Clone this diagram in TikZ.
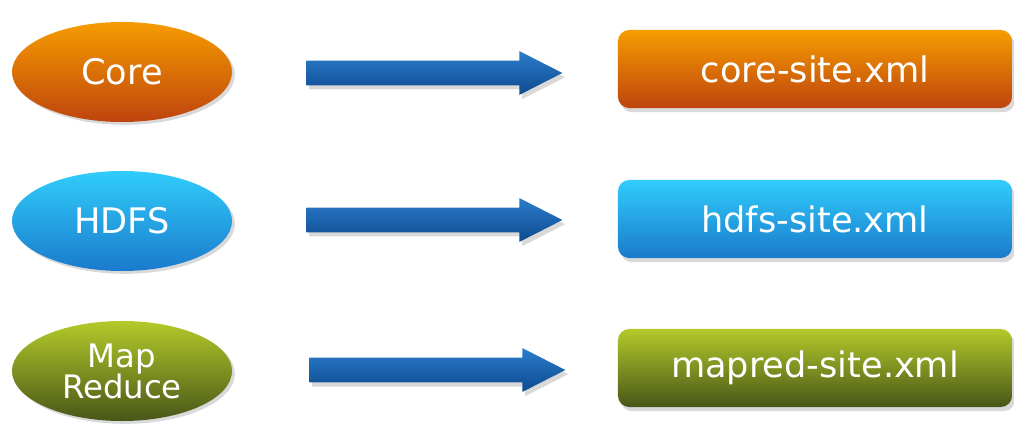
\documentclass[tikz,border=0pt]{standalone}
\usepackage{fontspec}
\setmainfont{DejaVu Sans}
\usepackage{tikz}
\usetikzlibrary{shapes.geometric, shapes.arrows, shadows}
\definecolor{coretop}{HTML}{F69C00}
\definecolor{corebot}{HTML}{BE440E}
\definecolor{hdfstop}{HTML}{30CDFB}
\definecolor{hdfsbot}{HTML}{1A7ACC}
\definecolor{mrtop}{HTML}{B4CA2A}
\definecolor{mrbot}{HTML}{485618}
\definecolor{arrtop}{HTML}{2B7DCC}
\definecolor{arrbot}{HTML}{0D4A8E}
\tikzstyle{component}=[ellipse, minimum width=5.5cm, minimum height=2.5cm, inner sep=0pt, text=white, font=\fontsize{25}{30}\selectfont, drop shadow={opacity=0.3, shadow xshift=2pt, shadow yshift=-2pt}]
\tikzstyle{confbox}=[rectangle, rounded corners=8pt, minimum width=9.85cm, minimum height=1.95cm, inner sep=0pt, text=white, font=\fontsize{25}{30}\selectfont, drop shadow={opacity=0.3, shadow xshift=2pt, shadow yshift=-3pt}]
\tikzstyle{bigarrow}=[single arrow, anchor=west, single arrow head extend=0.24cm, single arrow tip angle=54, minimum height=6.4cm, inner xsep=0pt, inner ysep=0.3cm, top color=arrtop, bottom color=arrbot, drop shadow={opacity=0.3, shadow xshift=2pt, shadow yshift=-3pt}]
\newcommand{\component}{\node[component]}
\newcommand{\confbox}{\node[confbox]}
\newcommand{\bigarrow}{\node[bigarrow]}

\begin{document}
\begin{tikzpicture}[x=.025cm, y=-.025cm]
\useasboundingbox (0,0) rectangle (1014,425);
    \component[top color=coretop, bottom color=corebot] (core) at (122,72) {Core};
    \bigarrow (corearrow) at (306,73) {};
    \confbox[top color=coretop, bottom color=corebot] (coresite) at (815,69) {core-site.xml};

    \component[top color=hdfstop, bottom color=hdfsbot] (hdfs) at (122,221) {HDFS};
    \bigarrow (hdfsarrow) at (306,220) {};
    \confbox[top color=hdfstop, bottom color=hdfsbot] (hdfssite) at (815,219) {hdfs-site.xml};

    \component[top color=mrtop, bottom color=mrbot, align=center, font=\fontsize{23}{28}\selectfont] (mapred) at (122,371) {Map\\[-6pt]Reduce};
    \bigarrow (mapredarrow) at (309,370) {};
    \confbox[top color=mrtop, bottom color=mrbot] (mapredsite) at (815,368) {mapred-site.xml};
\end{tikzpicture}
\end{document}
